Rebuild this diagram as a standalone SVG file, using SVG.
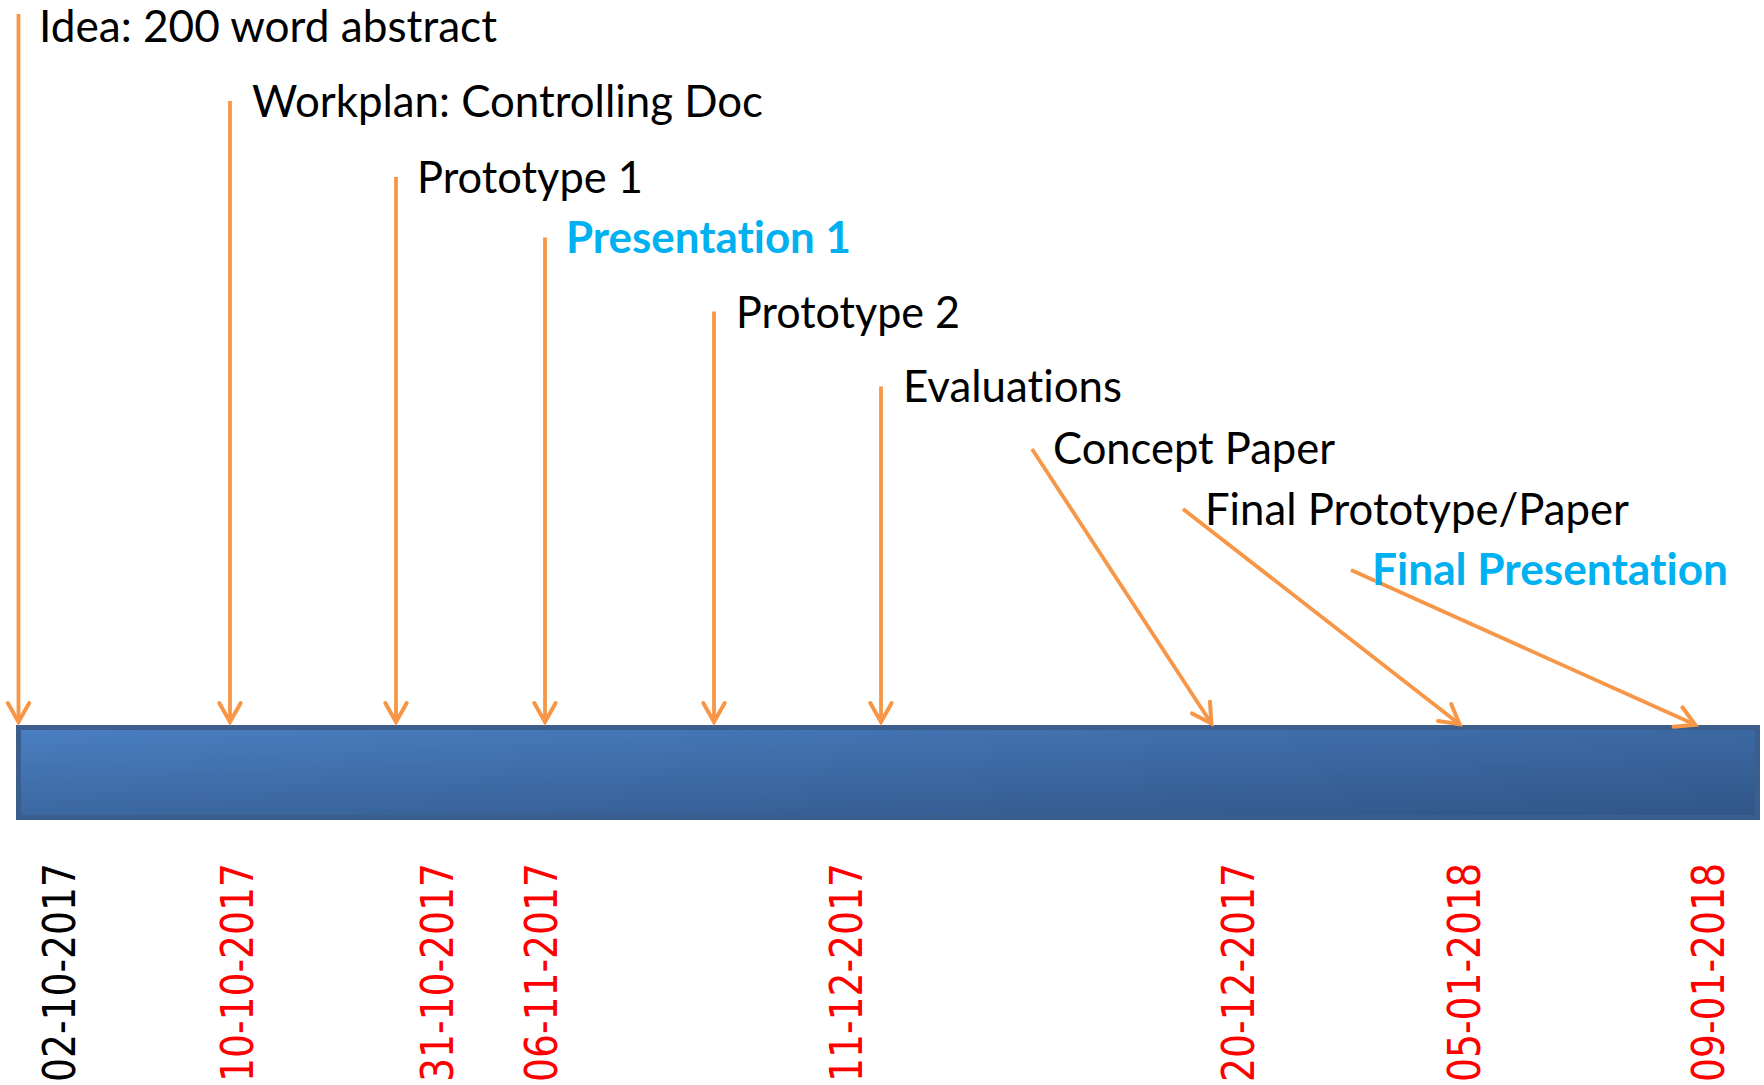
<svg xmlns="http://www.w3.org/2000/svg" width="1764" height="1085" viewBox="0 0 1764 1085">
<style>
.lbl{font-family:Lato,"Open Sans","Liberation Sans",sans-serif;font-size:43.5px;fill:#000000;font-variant-ligatures:none}
.hi{font-weight:bold;fill:#00b0f0}
.dt{font-family:"DejaVu Sans","Liberation Sans",sans-serif;font-size:44px;fill:#ff0000}
.dt0{fill:#000000}
.con line{stroke:#f79646;stroke-width:3.8;fill:none;marker-end:url(#ah)}
</style>
<defs>
<marker id="ah" markerUnits="userSpaceOnUse" markerWidth="40" markerHeight="40" refX="0" refY="0" orient="auto" overflow="visible">
<path d="M-19,-10.7 L0,0 L-19,10.7" fill="none" stroke="#f79646" stroke-width="4" stroke-linecap="round" stroke-linejoin="miter"/>
</marker>
<linearGradient id="gv" x1="0" y1="0" x2="0" y2="1">
<stop offset="0" stop-color="#4a7fc2"/>
<stop offset="1" stop-color="#3b679f"/>
</linearGradient>
<linearGradient id="gh" x1="0" y1="0" x2="1" y2="0">
<stop offset="0" stop-color="#0a1a33" stop-opacity="0"/>
<stop offset="1" stop-color="#0a1a33" stop-opacity="0.22"/>
</linearGradient>
</defs>
<rect width="1764" height="1085" fill="#ffffff"/>
<g id="timeline-bar">
<rect x="18.5" y="727.5" width="1739" height="90" fill="url(#gv)"/>
<rect x="18.5" y="727.5" width="1739" height="90" fill="url(#gh)" stroke="#3b5e8c" stroke-width="5"/>
</g>
<g id="connectors" class="con">
<line x1="18.5" y1="14" x2="18.5" y2="722"/>
<line x1="230" y1="101" x2="230" y2="722"/>
<line x1="396" y1="177" x2="396" y2="722"/>
<line x1="545" y1="237.5" x2="545" y2="722"/>
<line x1="714" y1="311.5" x2="714" y2="722"/>
<line x1="881" y1="386.5" x2="881" y2="722"/>
<line x1="1032" y1="449" x2="1211.4" y2="723.5"/>
<line x1="1183" y1="509" x2="1459.6" y2="724.2"/>
<line x1="1351" y1="570" x2="1695.3" y2="724.8"/>
</g>
<g id="m1"><text class="lbl" x="39" y="41.6" textLength="458" lengthAdjust="spacingAndGlyphs">Idea: 200 word abstract</text>
<text class="dt dt0" transform="translate(74.6,1082) rotate(-90)" textLength="219" lengthAdjust="spacingAndGlyphs">02-10-2017</text></g>
<g id="m2"><text class="lbl" x="252" y="117" textLength="511" lengthAdjust="spacingAndGlyphs">Workplan: Controlling Doc</text>
<text class="dt" transform="translate(253,1082) rotate(-90)" textLength="219" lengthAdjust="spacingAndGlyphs">10-10-2017</text></g>
<g id="m3"><text class="lbl" x="417" y="192.7" textLength="226" lengthAdjust="spacingAndGlyphs">Prototype 1</text>
<text class="dt" transform="translate(453,1082) rotate(-90)" textLength="219" lengthAdjust="spacingAndGlyphs">31-10-2017</text></g>
<g id="m4"><text class="lbl hi" x="566" y="253" textLength="285" lengthAdjust="spacingAndGlyphs">Presentation 1</text>
<text class="dt" transform="translate(557,1082) rotate(-90)" textLength="219" lengthAdjust="spacingAndGlyphs">06-11-2017</text></g>
<g id="m5"><text class="lbl" x="736" y="327.7" textLength="224" lengthAdjust="spacingAndGlyphs">Prototype 2</text></g>
<g id="m6"><text class="lbl" x="903" y="401.7" textLength="219" lengthAdjust="spacingAndGlyphs">Evaluations</text>
<text class="dt" transform="translate(862,1082) rotate(-90)" textLength="219" lengthAdjust="spacingAndGlyphs">11-12-2017</text></g>
<g id="m7"><text class="lbl" x="1053" y="464" textLength="282" lengthAdjust="spacingAndGlyphs">Concept Paper</text>
<text class="dt" transform="translate(1253.5,1082) rotate(-90)" textLength="219" lengthAdjust="spacingAndGlyphs">20-12-2017</text></g>
<g id="m8"><text class="lbl" x="1205" y="525" textLength="424" lengthAdjust="spacingAndGlyphs">Final Prototype/Paper</text>
<text class="dt" transform="translate(1480,1082) rotate(-90)" textLength="219" lengthAdjust="spacingAndGlyphs">05-01-2018</text></g>
<g id="m9"><text class="lbl hi" x="1372" y="585" textLength="356" lengthAdjust="spacingAndGlyphs">Final Presentation</text>
<text class="dt" transform="translate(1723.5,1082) rotate(-90)" textLength="219" lengthAdjust="spacingAndGlyphs">09-01-2018</text></g>
</svg>
